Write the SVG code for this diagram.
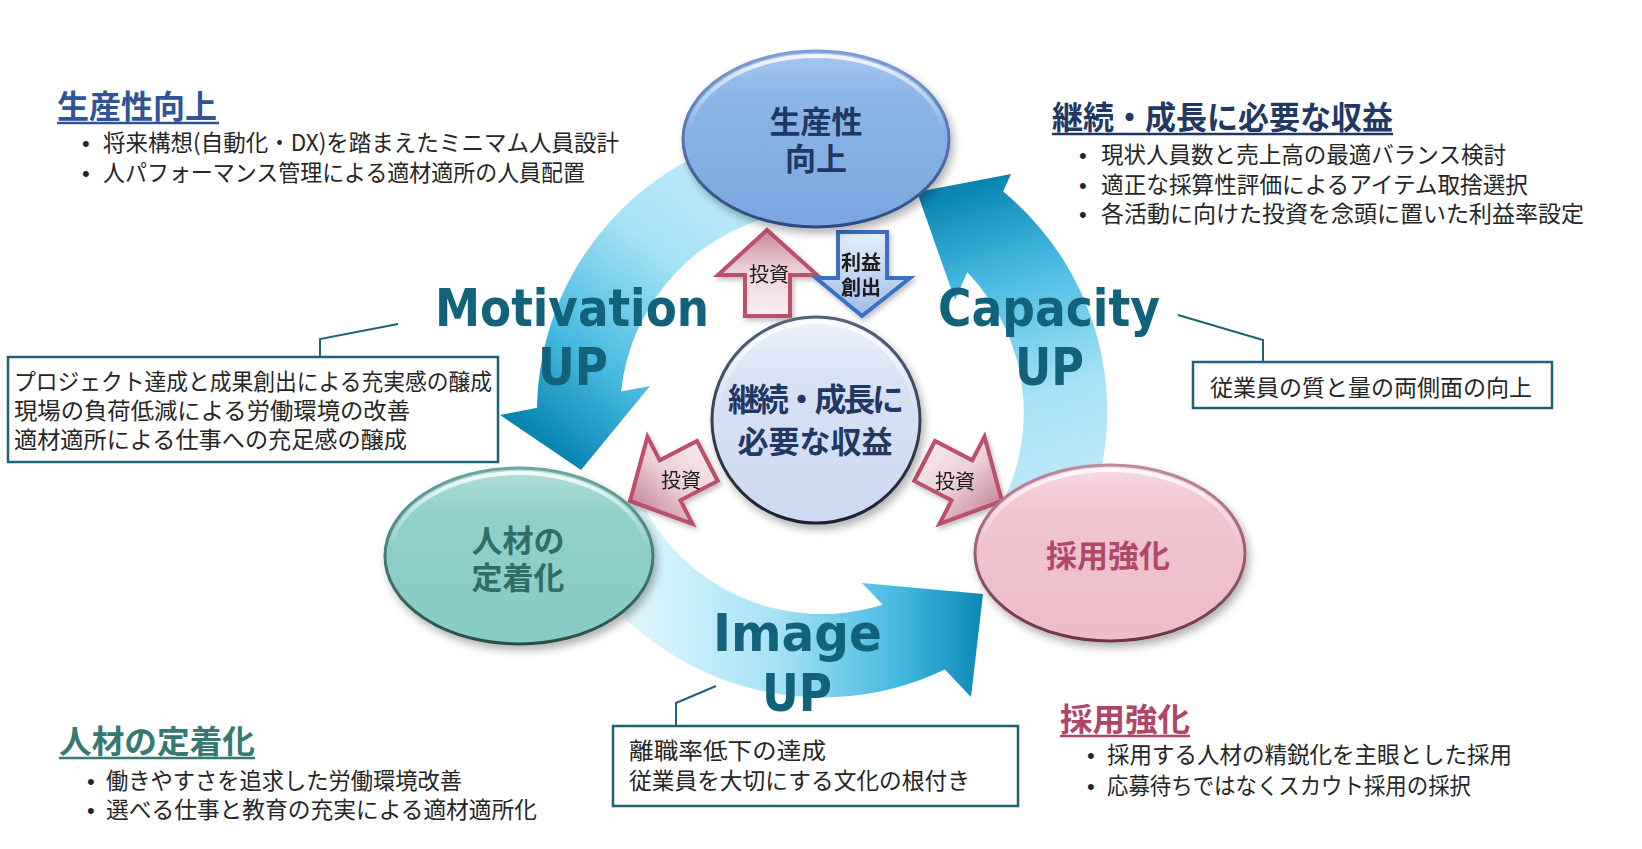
<svg xmlns="http://www.w3.org/2000/svg" width="1642" height="849" viewBox="0 0 1642 849">
<defs>
<style>
.jp{font-family:"Noto Sans CJK JP","Noto Sans CJK SC",sans-serif;}
.body{font-size:23px;fill:#262626;}
.bul{font-family:"Liberation Sans",sans-serif;font-size:22px;fill:#262626;}
.hd{font-size:32px;font-weight:bold;}
.nd{font-size:31px;font-weight:bold;text-anchor:middle;}
.lbl{font-family:"DejaVu Sans","Liberation Sans",sans-serif;font-weight:bold;font-size:52px;fill:#11627a;}
.box{fill:#fff;stroke:#1d6275;stroke-width:2.5;}
.ldr{fill:none;stroke:#1d6275;stroke-width:2;}
.pk{stroke:#bb4f6c;stroke-width:4;stroke-linejoin:miter;}
.bl{stroke:#3b6fc4;stroke-width:4;stroke-linejoin:miter;}
.sm{font-size:20px;fill:#1a1a1a;text-anchor:middle;}
.hlr{fill:none;stroke:url(#hl);stroke-width:4;}
</style>
<linearGradient id="gMot" gradientUnits="userSpaceOnUse" x1="790" y1="170" x2="565" y2="455">
<stop offset="0" stop-color="#cbeffa"/><stop offset="0.4" stop-color="#a5e2f5"/><stop offset="0.75" stop-color="#45b9e0"/><stop offset="1" stop-color="#0b86b3"/>
</linearGradient>
<linearGradient id="gImg" gradientUnits="userSpaceOnUse" x1="640" y1="640" x2="985" y2="640">
<stop offset="0" stop-color="#dcf5fc"/><stop offset="0.4" stop-color="#a5e2f5"/><stop offset="0.75" stop-color="#45b9e0"/><stop offset="1" stop-color="#0b86b3"/>
</linearGradient>
<linearGradient id="gCap" gradientUnits="userSpaceOnUse" x1="1060" y1="540" x2="950" y2="195">
<stop offset="0" stop-color="#cbeffa"/><stop offset="0.4" stop-color="#a5e2f5"/><stop offset="0.75" stop-color="#45b9e0"/><stop offset="1" stop-color="#0b86b3"/>
</linearGradient>
<linearGradient id="hl" x1="0" y1="0" x2="0" y2="1">
<stop offset="0" stop-color="#fff" stop-opacity="0.85"/><stop offset="0.45" stop-color="#fff" stop-opacity="0"/>
</linearGradient>
<linearGradient id="fBlue" x1="0" y1="0" x2="0" y2="1"><stop offset="0" stop-color="#a9c8f0"/><stop offset="0.25" stop-color="#8db5e9"/><stop offset="1" stop-color="#7aa6e0"/></linearGradient>
<linearGradient id="sBlue" x1="0" y1="0" x2="0" y2="1"><stop offset="0" stop-color="#7d9fd3"/><stop offset="1" stop-color="#2c4a80"/></linearGradient>
<linearGradient id="fTeal" x1="0" y1="0" x2="0" y2="1"><stop offset="0" stop-color="#b3e0dc"/><stop offset="0.25" stop-color="#90d0cb"/><stop offset="1" stop-color="#86cbc5"/></linearGradient>
<linearGradient id="sTeal" x1="0" y1="0" x2="0" y2="1"><stop offset="0" stop-color="#6aa7a2"/><stop offset="1" stop-color="#2b4d4a"/></linearGradient>
<linearGradient id="fPink" x1="0" y1="0" x2="0" y2="1"><stop offset="0" stop-color="#f8dbe3"/><stop offset="0.25" stop-color="#f0c5d0"/><stop offset="1" stop-color="#ecbcc8"/></linearGradient>
<linearGradient id="sPink" x1="0" y1="0" x2="0" y2="1"><stop offset="0" stop-color="#c08a9b"/><stop offset="1" stop-color="#6e3346"/></linearGradient>
<linearGradient id="fCtr" x1="0" y1="0" x2="0" y2="1"><stop offset="0" stop-color="#eef3fc"/><stop offset="0.3" stop-color="#d8e2f5"/><stop offset="1" stop-color="#cdd9f1"/></linearGradient>
<linearGradient id="sCtr" x1="0" y1="0" x2="0" y2="1"><stop offset="0" stop-color="#55607a"/><stop offset="1" stop-color="#1c2233"/></linearGradient>
<linearGradient id="pkUp" x1="0" y1="1" x2="0" y2="0"><stop offset="0" stop-color="#fbf0f3"/><stop offset="0.55" stop-color="#ecd0d8"/><stop offset="1" stop-color="#c68596"/></linearGradient>
<linearGradient id="pkL" x1="1" y1="0" x2="0" y2="1"><stop offset="0" stop-color="#fbf0f3"/><stop offset="0.5" stop-color="#ecd0d8"/><stop offset="1" stop-color="#bb6f85"/></linearGradient>
<linearGradient id="pkR" x1="0" y1="0" x2="1" y2="1"><stop offset="0" stop-color="#fbf0f3"/><stop offset="0.5" stop-color="#ecd0d8"/><stop offset="1" stop-color="#bb6f85"/></linearGradient>
<linearGradient id="blDn" x1="0" y1="0" x2="0" y2="1"><stop offset="0" stop-color="#e6eefa"/><stop offset="1" stop-color="#9fbde8"/></linearGradient>
<filter id="sh" x="-20%" y="-20%" width="140%" height="150%"><feDropShadow dx="3" dy="5" stdDeviation="4" flood-color="#000" flood-opacity="0.3"/></filter>
<filter id="sh2" x="-20%" y="-20%" width="140%" height="150%"><feDropShadow dx="2" dy="3" stdDeviation="2.5" flood-color="#000" flood-opacity="0.25"/></filter>
</defs>
<rect x="0" y="0" width="1642" height="849" fill="#fff"/>

<g id="connectors">
<path id="arrow-image" fill="url(#gImg)" d="M563.7,532.4 A285,285 0 0 0 944.8,669.6 L971,697 L983,594 L862,583 L882.7,604.7 A202,202 0 0 1 638.9,497.4 Z"/>
<path id="arrow-capacity" fill="url(#gCap)" d="M1068.8,554.5 A285,285 0 0 0 1003.2,191.6 L1011,174 L917,192 L955,300 L967.3,272.3 A202,202 0 0 1 996.9,513 Z"/>
<path id="arrow-motivation" fill="url(#gMot)" d="M782.3,129.8 A285,285 0 0 0 537,407.8 L500,415 L581,470 L650,386 L621.1,391.6 A202,202 0 0 1 793.9,212 Z"/>
<polyline class="ldr" points="398,324 320,339 320,357"/>
<polyline class="ldr" points="1178,315 1263,340 1263,362"/>
<polyline class="ldr" points="716,686 676,703 676,726"/>
<g id="arrow-invest-up" filter="url(#sh2)">
<polygon class="pk" fill="url(#pkUp)" points="767,230 817,275 790,275 790,316 745,316 745,275 718,275"/>
<text class="jp sm" x="769" y="282">投資</text>
</g>
<g id="arrow-profit-down" filter="url(#sh2)">
<polygon class="bl" fill="url(#blDn)" points="838,232 887,232 887,278 910,278 862,316 816,278 838,278"/>
<text class="jp sm" x="861" y="270" font-weight="bold">利益</text>
<text class="jp sm" x="861" y="295" font-weight="bold">創出</text>
</g>
<g id="arrow-invest-left" filter="url(#sh2)">
<polygon class="pk" fill="url(#pkL)" points="630,501 692.5,523.9 680.4,500.3 717.7,481 697,441 659.7,460.3 647.5,436.7"/>
<text class="jp sm" x="681" y="488">投資</text>
</g>
<g id="arrow-invest-right" filter="url(#sh2)">
<polygon class="pk" fill="url(#pkR)" points="1002,501 939.5,523.9 951.6,500.3 914.3,481 935,441 972.3,460.3 984.5,436.7"/>
<text class="jp sm" x="955" y="489">投資</text>
</g>
</g>

<g id="label-motivation">
<text class="lbl" x="435" y="326" textLength="274" lengthAdjust="spacingAndGlyphs">Motivation</text>
<text class="lbl" x="538" y="385" textLength="70" lengthAdjust="spacingAndGlyphs">UP</text>
</g>
<g id="label-capacity">
<text class="lbl" x="938" y="326" textLength="222" lengthAdjust="spacingAndGlyphs">Capacity</text>
<text class="lbl" x="1015" y="385" textLength="69" lengthAdjust="spacingAndGlyphs">UP</text>
</g>
<g id="label-image">
<text class="lbl" x="713" y="651" textLength="169" lengthAdjust="spacingAndGlyphs">Image</text>
<text class="lbl" x="762" y="711" textLength="70" lengthAdjust="spacingAndGlyphs">UP</text>
</g>

<g id="node-productivity">
<ellipse cx="816" cy="139" rx="133" ry="88" fill="url(#fBlue)" stroke="url(#sBlue)" stroke-width="3" filter="url(#sh)"/>
<ellipse class="hlr" cx="816" cy="139" rx="128" ry="83"/>
<text class="jp nd" x="816" y="133" fill="#1f3864">生産性</text>
<text class="jp nd" x="816" y="170" fill="#1f3864">向上</text>
</g>

<g id="node-retention">
<ellipse cx="519" cy="556" rx="134" ry="88" fill="url(#fTeal)" stroke="url(#sTeal)" stroke-width="3" filter="url(#sh)"/>
<ellipse class="hlr" cx="519" cy="556" rx="129" ry="83"/>
<text class="jp nd" x="518" y="552" fill="#2f6d69">人材の</text>
<text class="jp nd" x="518" y="589" fill="#2f6d69">定着化</text>
</g>

<g id="node-recruit">
<ellipse cx="1110" cy="553" rx="135" ry="88" fill="url(#fPink)" stroke="url(#sPink)" stroke-width="3" filter="url(#sh)"/>
<ellipse class="hlr" cx="1110" cy="553" rx="130" ry="83"/>
<text class="jp nd" x="1108" y="567" fill="#b0486a" font-size="32">採用強化</text>
</g>

<g id="node-revenue">
<ellipse cx="816" cy="420" rx="104" ry="103" fill="url(#fCtr)" stroke="url(#sCtr)" stroke-width="3" filter="url(#sh)"/>
<ellipse class="hlr" cx="816" cy="420" rx="99" ry="98"/>
<text class="jp" font-size="32" font-weight="bold" fill="#1f3864" x="728" y="411" textLength="176" lengthAdjust="spacing">継続・成長に</text>
<text class="jp nd" font-size="32" x="815" y="453" fill="#1f3864">必要な収益</text>
</g>

<g id="note-productivity">
<text class="jp hd" x="57" y="118" fill="#2f5597">生産性向上</text>
<line x1="57" y1="123" x2="219" y2="123" stroke="#2f5597" stroke-width="2.5"/>
<text class="bul" x="82" y="151">•</text>
<text class="jp body" x="103" y="151" textLength="516" lengthAdjust="spacingAndGlyphs">将来構想(自動化・DX)を踏まえたミニマム人員設計</text>
<text class="bul" x="82" y="181">•</text>
<text class="jp body" x="103" y="181" textLength="482" lengthAdjust="spacingAndGlyphs">人パフォーマンス管理による適材適所の人員配置</text>
</g>

<g id="note-revenue">
<text class="jp hd" x="1052" y="129" fill="#1f3864" font-size="31" textLength="341" lengthAdjust="spacingAndGlyphs">継続・成長に必要な収益</text>
<line x1="1052" y1="134" x2="1393" y2="134" stroke="#1f3864" stroke-width="2.5"/>
<text class="bul" x="1079" y="163">•</text>
<text class="jp body" x="1101" y="163" textLength="405" lengthAdjust="spacingAndGlyphs">現状人員数と売上高の最適バランス検討</text>
<text class="bul" x="1079" y="193">•</text>
<text class="jp body" x="1101" y="193" textLength="427" lengthAdjust="spacingAndGlyphs">適正な採算性評価によるアイテム取捨選択</text>
<text class="bul" x="1079" y="222">•</text>
<text class="jp body" x="1101" y="222" textLength="483" lengthAdjust="spacingAndGlyphs">各活動に向けた投資を念頭に置いた利益率設定</text>
</g>

<g id="box-motivation">
<rect class="box" x="8" y="357" width="490" height="105"/>
<text class="jp body" x="14" y="390" textLength="478" lengthAdjust="spacingAndGlyphs">プロジェクト達成と成果創出による充実感の醸成</text>
<text class="jp body" x="14" y="419" textLength="396" lengthAdjust="spacingAndGlyphs">現場の負荷低減による労働環境の改善</text>
<text class="jp body" x="14" y="448" textLength="393" lengthAdjust="spacingAndGlyphs">適材適所による仕事への充足感の醸成</text>
</g>

<g id="box-capacity">
<rect class="box" x="1193" y="362" width="359" height="46"/>
<text class="jp body" x="1210" y="396" textLength="322" lengthAdjust="spacingAndGlyphs">従業員の質と量の両側面の向上</text>
</g>

<g id="box-image">
<rect class="box" x="613" y="726" width="405" height="80"/>
<text class="jp body" x="629" y="759" textLength="197" lengthAdjust="spacingAndGlyphs">離職率低下の達成</text>
<text class="jp body" x="629" y="789" textLength="341" lengthAdjust="spacingAndGlyphs">従業員を大切にする文化の根付き</text>
</g>

<g id="note-recruit">
<text class="jp hd" x="1060" y="731" fill="#b0456a" textLength="130" lengthAdjust="spacingAndGlyphs">採用強化</text>
<line x1="1060" y1="736" x2="1190" y2="736" stroke="#b0456a" stroke-width="2.5"/>
<text class="bul" x="1087" y="763">•</text>
<text class="jp body" x="1107" y="763" textLength="405" lengthAdjust="spacingAndGlyphs">採用する人材の精鋭化を主眼とした採用</text>
<text class="bul" x="1087" y="794">•</text>
<text class="jp body" x="1107" y="794" textLength="364" lengthAdjust="spacingAndGlyphs">応募待ちではなくスカウト採用の採択</text>
</g>

<g id="note-retention">
<text class="jp hd" x="59" y="753" fill="#357a72" textLength="196" lengthAdjust="spacingAndGlyphs">人材の定着化</text>
<line x1="59" y1="758" x2="255" y2="758" stroke="#357a72" stroke-width="2.5"/>
<text class="bul" x="87" y="789">•</text>
<text class="jp body" x="106" y="789" textLength="356" lengthAdjust="spacingAndGlyphs">働きやすさを追求した労働環境改善</text>
<text class="bul" x="87" y="818">•</text>
<text class="jp body" x="106" y="818" textLength="431" lengthAdjust="spacingAndGlyphs">選べる仕事と教育の充実による適材適所化</text>
</g>
</svg>
